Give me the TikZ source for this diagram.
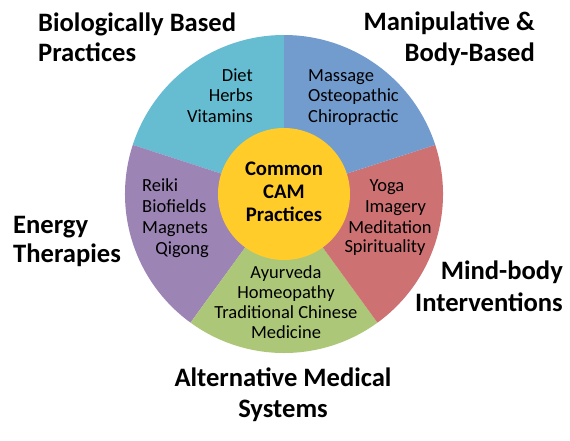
\documentclass[tikz,border=0pt]{standalone}
\usepackage{fontspec}
\setmainfont{Carlito}
\definecolor{cteal}{RGB}{102,188,209}
\definecolor{cblue}{RGB}{114,155,206}
\definecolor{cred}{RGB}{206,113,114}
\definecolor{cgreen}{RGB}{173,199,121}
\definecolor{cpurple}{RGB}{156,132,181}
\definecolor{cyellow}{RGB}{255,204,41}
\begin{document}
\begin{tikzpicture}[x=1pt,y=-1pt,
  title/.style={inner sep=0pt,font=\fontsize{26.6}{31}\selectfont\bfseries},
  item/.style={inner sep=0pt,font=\fontsize{18.5}{20.5}\selectfont},
  hub/.style={inner sep=0pt,font=\fontsize{20.7}{23}\selectfont\bfseries}]
\useasboundingbox[fill=white] (0,0) rectangle (570,440);
\coordinate (C) at (284,194);
% sectors (angles measured counter-clockwise on the page)
\fill[cteal]   (C) -- ++(0,-159) arc[start angle=-90, end angle=-162, radius=159] -- cycle;
\fill[cpurple] (C) -- ++(-162:159) arc[start angle=-162, end angle=-234, radius=159] -- cycle;
\fill[cgreen]  (C) -- ++(-234:159) arc[start angle=-234, end angle=-306, radius=159] -- cycle;
\fill[cred]    (C) -- ++(-306:159) arc[start angle=-306, end angle=-378, radius=159] -- cycle;
\fill[cblue]   (C) -- ++(-18:159) arc[start angle=-18, end angle=-90, radius=159] -- cycle;
\node[circle,fill=cyellow,minimum size=132pt,inner sep=0pt] (hubc) at (C) {};
% hub text
\node[hub,anchor=mid] (h1) at (284,173) {Common};
\node[hub,anchor=mid] (h2) at (284,196) {CAM};
\node[hub,anchor=mid] (h3) at (284,219) {Practices};
% sector items
\node[item,anchor=mid east] (d1) at (253,79) {Diet};
\node[item,anchor=mid east] (d2) at (253,99) {Herbs};
\node[item,anchor=mid east] (d3) at (253,120) {Vitamins};
\node[item,anchor=mid west] (m1) at (308,79) {Massage};
\node[item,anchor=mid west] (m2) at (308,99) {Osteopathic};
\node[item,anchor=mid west] (m3) at (308,120) {Chiropractic};
\node[item,anchor=mid west] (e1) at (142,189) {Reiki};
\node[item,anchor=mid west] (e2) at (142,210) {Biofields};
\node[item,anchor=mid west] (e3) at (142,231) {Magnets};
\node[item,anchor=mid east] (e4) at (209,252) {Qigong};
\node[item,anchor=mid] (y1) at (387,189) {Yoga};
\node[item,anchor=mid] (y2) at (395.5,210) {Imagery};
\node[item,anchor=mid] (y3) at (390,231) {Meditation};
\node[item,anchor=mid] (y4) at (385,250) {Spirituality};
\node[item,anchor=mid] (a1) at (286,276) {Ayurveda};
\node[item,anchor=mid] (a2) at (286,296) {Homeopathy};
\node[item,anchor=mid] (a3) at (286,316) {Traditional Chinese};
\node[item,anchor=mid] (a4) at (286,336) {Medicine};
% category titles
\node[title,anchor=base west] (t1a) at (38,31) {Biologically Based};
\node[title,anchor=base west] (t1b) at (38,61.5) {Practices};
\node[title,anchor=base east] (t2a) at (535,30) {Manipulative \&};
\node[title,anchor=base east] (t2b) at (535,61) {Body-Based};
\node[title,anchor=base west] (t3a) at (13,233) {Energy};
\node[title,anchor=base west] (t3b) at (13,262) {Therapies};
\node[title,anchor=base east] (t4a) at (563,279.5) {Mind-body};
\node[title,anchor=base east] (t4b) at (563,311.5) {Interventions};
\node[title,anchor=base] (t5a) at (283,386) {Alternative Medical};
\node[title,anchor=base] (t5b) at (283,417.5) {Systems};
\end{tikzpicture}
\end{document}
